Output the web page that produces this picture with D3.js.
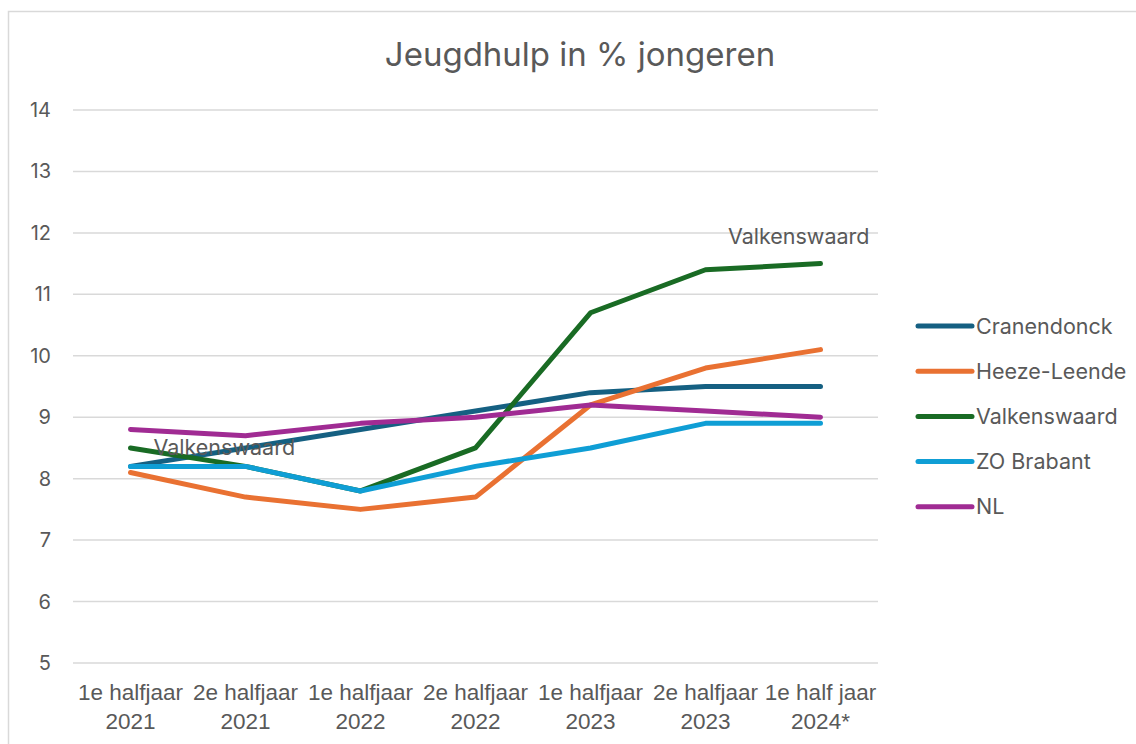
<!DOCTYPE html>
<html>
<head>
<meta charset="utf-8">
<script src="https://cdn.jsdelivr.net/npm/d3@7"></script>
<style>
  body { margin: 0; background: #fff; }
  svg { display: block; }
  text { fill: #595959; }
</style>
</head>
<body>
<svg id="chart" width="1136" height="744"></svg>
<script>
// periods, two lines per label
const periods = [
  ["1e halfjaar", "2021"],
  ["2e halfjaar", "2021"],
  ["1e halfjaar", "2022"],
  ["2e halfjaar", "2022"],
  ["1e halfjaar", "2023"],
  ["2e halfjaar", "2023"],
  ["1e half jaar", "2024*"]
];

const seriesNames = ["Cranendonck", "Heeze-Leende", "Valkenswaard", "ZO Brabant", "NL"];
const cranendonck = [8.2, 8.5, 8.8, 9.1, 9.4, 9.5, 9.5];
const heezeLeende = [8.1, 7.7, 7.5, 7.7, 9.2, 9.8, 10.1];
const valkenswaard = [8.5, 8.2, 7.8, 8.5, 10.7, 11.4, 11.5];
const zoBrabant = [8.2, 8.2, 7.8, 8.2, 8.5, 8.9, 8.9];
const nl = [8.8, 8.7, 8.9, 9.0, 9.2, 9.1, 9.0];
const yTicks = [5, 6, 7, 8, 9, 10, 11, 12, 13, 14];

const colors = ["#156082", "#E97132", "#196B24", "#0F9ED5", "#A02B93"];
const allValues = [cranendonck, heezeLeende, valkenswaard, zoBrabant, nl];

const svg = d3.select("#chart");
const font = "Inter, 'Noto Sans', sans-serif";
const narrow = "'Liberation Sans', Arial, sans-serif";

// chart border
svg.append("rect")
  .attr("x", 8.5).attr("y", 11.5)
  .attr("width", 1140).attr("height", 760)
  .attr("fill", "none")
  .attr("stroke", "#d9d9d9")
  .attr("stroke-width", 1.5);

const plotLeft = 73, plotRight = 878, plotTop = 110, plotBottom = 663;

const x = d3.scaleBand()
  .domain(d3.range(periods.length))
  .range([plotLeft, plotRight]);

const y = d3.scaleLinear()
  .domain([5, 14])
  .range([plotBottom, plotTop]);

const cx = i => x(i) + x.bandwidth() / 2;

// title
svg.append("text")
  .attr("x", 580).attr("y", 66)
  .attr("text-anchor", "middle")
  .style("font-family", font)
  .style("font-size", "33px")
  .text("Jeugdhulp in % jongeren");

// gridlines
svg.append("g").selectAll("line")
  .data(yTicks)
  .enter().append("line")
    .attr("x1", plotLeft).attr("x2", plotRight)
    .attr("y1", d => y(d)).attr("y2", d => y(d))
    .attr("stroke", "#d9d9d9")
    .attr("stroke-width", 1.5);

// y tick labels
svg.append("g").selectAll("text")
  .data(yTicks)
  .enter().append("text")
    .attr("x", 51)
    .attr("y", d => y(d) + 7)
    .attr("text-anchor", "end")
    .style("font-family", font)
    .style("font-size", "20px")
    .text(d => d);

// x labels
const xl = svg.append("g").selectAll("text")
  .data(periods)
  .enter().append("text")
    .attr("text-anchor", "middle")
    .style("font-family", narrow)
    .style("font-size", "22.5px");
xl.append("tspan")
  .attr("x", (d, i) => cx(i))
  .attr("y", 700)
  .text(d => d[0]);
xl.append("tspan")
  .attr("x", (d, i) => cx(i))
  .attr("y", 729)
  .text(d => d[1]);

const line = d3.line()
  .x((d, i) => cx(i))
  .y(d => y(d));

svg.append("g").selectAll("path")
  .data(allValues)
  .enter().append("path")
    .attr("d", line)
    .attr("fill", "none")
    .attr("stroke", (d, i) => colors[i])
    .attr("stroke-width", 5)
    .attr("stroke-linecap", "round")
    .attr("stroke-linejoin", "round");

// data labels for Valkenswaard
svg.append("text")
  .attr("x", cx(0) + 23).attr("y", y(valkenswaard[0]) + 7)
  .style("font-family", font)
  .style("font-size", "21.5px")
  .text("Valkenswaard");
svg.append("text")
  .attr("x", cx(6) + 49).attr("y", y(valkenswaard[6]) - 20)
  .attr("text-anchor", "end")
  .style("font-family", font)
  .style("font-size", "21.5px")
  .text("Valkenswaard");

// legend
const lg = svg.append("g").selectAll("g")
  .data(seriesNames)
  .enter().append("g")
    .attr("transform", (d, i) => "translate(918," + (326 + i * 45.2) + ")");
lg.append("line")
  .attr("x1", 0).attr("x2", 54)
  .attr("stroke", (d, i) => colors[i])
  .attr("stroke-width", 5)
  .attr("stroke-linecap", "round");
lg.append("text")
  .attr("x", 58).attr("y", 7.5)
  .style("font-family", font)
  .style("font-size", "21.5px")
  .text(d => d);
</script>
</body>
</html>
